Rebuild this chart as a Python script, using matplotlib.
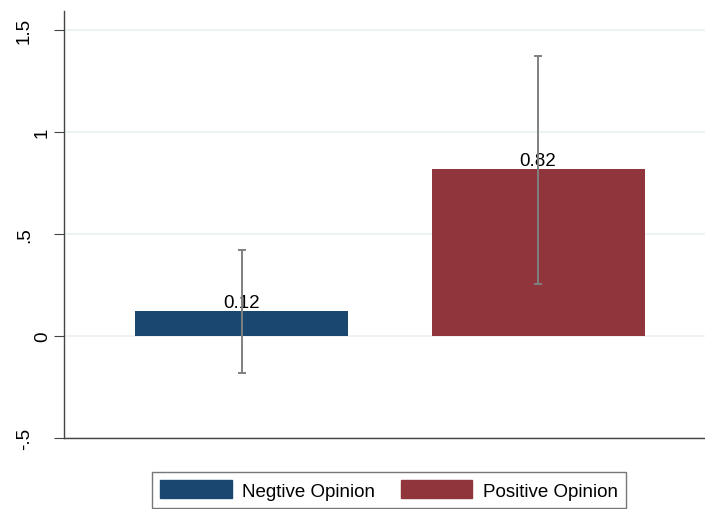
import matplotlib.pyplot as plt
import matplotlib.patches as mpatches
import matplotlib.transforms as mtransforms

plt.rcParams['font.family'] = ['Liberation Sans', 'DejaVu Sans']

# 两组意见的均值与置信区间
groups = ['Negtive Opinion', 'Positive Opinion']
means = [0.12, 0.82]
ci_low = [-0.185, 0.255]
ci_high = [0.42, 1.375]
colors = ['#1a476f', '#90353b']
y_ticks = [-0.5, 0, 0.5, 1, 1.5]
y_tick_labels = ['-.5', '0', '.5', '1', '1.5']

fig = plt.figure(figsize=(7.05, 5.1), dpi=100)
ax = fig.add_axes([0.0908, 0.140, 0.9092, 0.836])

xs = list(range(len(means)))
ax.bar(xs, means, width=0.718, color=colors, zorder=2)

err_lo = [m - l for m, l in zip(means, ci_low)]
err_hi = [h - m for m, h in zip(means, ci_high)]

for x, m in zip(xs, means):
    ax.text(x, m, f'{m:.2f}', ha='center', va='bottom', fontsize=13.5, zorder=3)

ax.errorbar(xs, means, yerr=[err_lo, err_hi], fmt='none', ecolor='#808080',
            elinewidth=1.4, capsize=2.8, capthick=1.4, zorder=4)

ax.set_xlim(-0.599, 1.563)
ax.set_ylim(-0.5, 1.593)
ax.set_yticks(y_ticks)
ax.set_yticklabels([])
ax.set_xticks([])

# 旋转的刻度标签：多字符标签整体往左偏
for yv, lab in zip(y_ticks, y_tick_labels):
    dx = -15.5 if len(lab) == 1 else -28.5
    tr = ax.get_yaxis_transform() + mtransforms.ScaledTranslation(dx / 72, 0, fig.dpi_scale_trans)
    ax.text(0, yv, lab, transform=tr, rotation=90, ha='center', va='center',
            fontsize=13.5, clip_on=False)

ax.grid(axis='y', color='#eaf0f3', linewidth=1.2, zorder=0)
ax.set_axisbelow(True)
for s in ['top', 'right']:
    ax.spines[s].set_visible(False)
for s in ['left', 'bottom']:
    ax.spines[s].set_color('#444444')
    ax.spines[s].set_linewidth(1.0)
ax.tick_params(axis='y', length=7, color='#444444')

handles = [mpatches.Patch(color=c, label=g) for c, g in zip(colors, groups)]
leg = fig.legend(handles=handles, loc='center', bbox_to_anchor=(389 / 705, 1 - 491 / 510),
                 ncol=2, fontsize=13.5, frameon=True, fancybox=False,
                 handlelength=3.8, handleheight=1.1, handletextpad=0.55,
                 columnspacing=1.4, borderpad=0.45)
leg.get_frame().set_edgecolor('#555555')
leg.get_frame().set_linewidth(1.0)

fig.savefig('out.png', dpi=100)
